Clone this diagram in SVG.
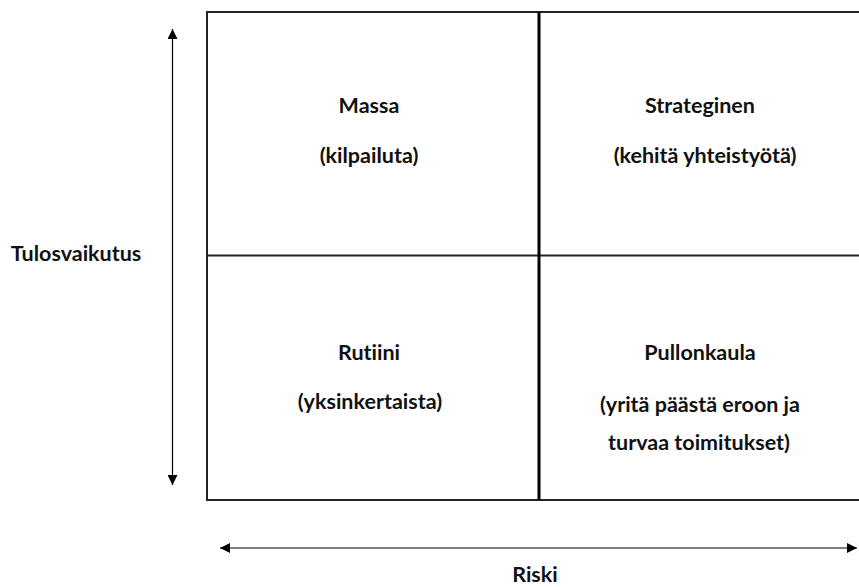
<svg xmlns="http://www.w3.org/2000/svg" width="859" height="587" viewBox="0 0 859 587">
<style>
.t{font-family:Lato,"Liberation Sans",Arial,sans-serif;font-weight:700;font-size:21.5px;fill:#111;text-anchor:middle;font-variant-ligatures:none}
.frame{stroke:#222;stroke-width:2;fill:none}
.ax{stroke:#000;stroke-width:1.2;fill:none}
</style>
<defs>
<marker id="ah" viewBox="0 0 10 10" refX="10" refY="5" markerWidth="10" markerHeight="10" markerUnits="userSpaceOnUse" orient="auto-start-reverse">
<path d="M0,0 L10,5 L0,10 Z" fill="#000"/>
</marker>
</defs>
<rect width="859" height="587" fill="#fff"/>
<g id="grid">
<path class="frame" d="M860,12 H207 V500 H860"/>
<line x1="207" y1="255.5" x2="860" y2="255.5" stroke="#222" stroke-width="2"/>
<line x1="539" y1="12" x2="539" y2="500" stroke="#000" stroke-width="3"/>
</g>
<g id="connectors">
<line class="ax" x1="172.5" y1="29" x2="172.5" y2="485" marker-start="url(#ah)" marker-end="url(#ah)"/>
<line class="ax" x1="220" y1="548" x2="857" y2="548" marker-start="url(#ah)" marker-end="url(#ah)"/>
</g>
<g id="massa"><text class="t" x="369" y="113">Massa</text><text class="t" x="369" y="163">(kilpailuta)</text></g>
<g id="strateginen"><text class="t" x="700" y="113">Strateginen</text><text class="t" x="705" y="163">(kehitä yhteistyötä)</text></g>
<g id="rutiini"><text class="t" x="369" y="360">Rutiini</text><text class="t" x="370" y="409">(yksinkertaista)</text></g>
<g id="pullonkaula"><text class="t" x="700" y="360">Pullonkaula</text><text class="t" x="700" y="412">(yritä päästä eroon ja</text><text class="t" x="699" y="450">turvaa toimitukset)</text></g>
<g id="tulosvaikutus"><text class="t" x="76" y="261">Tulosvaikutus</text></g>
<g id="riski"><text class="t" x="535" y="582">Riski</text></g>
</svg>
